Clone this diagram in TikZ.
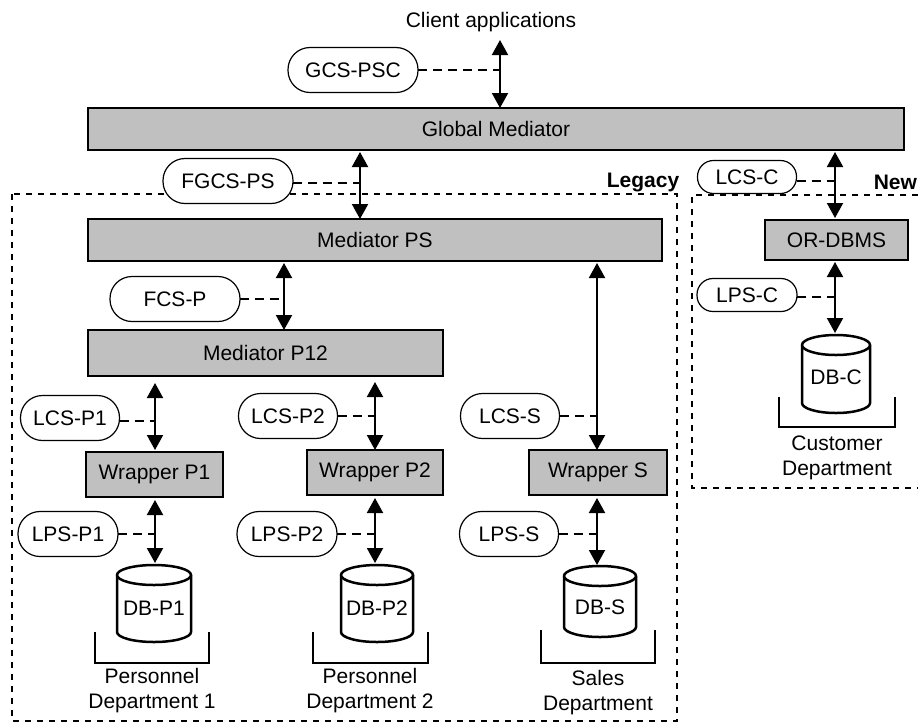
\documentclass[tikz,border=0pt]{standalone}
\usepackage{fontspec}
\setmainfont{Liberation Sans}
\usetikzlibrary{arrows.meta}
\definecolor{boxgray}{RGB}{192,192,192}
\newcommand\dbcyl[7]{%
  \coordinate (#1-top) at (#2,#3);
  \draw[cyl] ({#2-#4/2},{#3+10}) -- ({#2-#4/2},{#3+#5-10})
     arc[start angle=180,end angle=0,x radius=#4/2,y radius=10]
     -- ({#2+#4/2},{#3+10})
     arc[start angle=0,end angle=-180,x radius=#4/2,y radius=10] -- cycle;
  \draw[cyl] ({#2-#4/2},{#3+10}) arc[start angle=180,end angle=0,x radius=#4/2,y radius=10];
  \node (#1) at (#2,#7) {#6};
}
\begin{document}
\begin{tikzpicture}[x=1pt,y=-1pt,
  every node/.style={font=\fontsize{21}{25}\selectfont, inner sep=0pt, outer sep=0pt},
  gbox/.style={draw, line width=2pt, fill=boxgray},
  pill/.style={draw, line width=1.2pt, fill=white, rounded corners=22pt, minimum height=45pt},
  spill/.style={draw, line width=1.2pt, fill=white, rounded corners=16pt, minimum height=33pt},
  biarr/.style={line width=2pt, {Triangle[width=16pt,length=15pt]}-{Triangle[width=16pt,length=15pt]}},
  dconn/.style={line width=1.8pt, dash pattern=on 9pt off 6pt},
  region/.style={line width=1.3pt, dash pattern=on 6pt off 6pt},
  cyl/.style={line width=2.5pt, fill=white},
  brk/.style={line width=2pt},
  lbl/.style={align=center}
]
\useasboundingbox (0,0) rectangle (918,724);

% regions
\draw[region] (12,194) rectangle (677,721);
\draw[region] (918,195) -- (692,195) -- (692,488) -- (918,488);
\node[font=\fontsize{21}{25}\selectfont\bfseries] (legacy) at (643,182) {Legacy};
\node[font=\fontsize{21}{25}\selectfont\bfseries, anchor=east] (new) at (917,182) {New};

% top
\node (ca) at (491,22) {Client applications};
\node[gbox, minimum width=816pt, minimum height=42pt] (gm) at (496,129) {Global Mediator};
\node[gbox, minimum width=574pt, minimum height=42pt] (mps) at (375,240) {Mediator PS};
\node[gbox, minimum width=355pt, minimum height=46pt] (mp12) at (265.5,353) {Mediator P12};
\node[gbox, minimum width=137pt, minimum height=45pt] (wp1) at (154.5,474.5) {Wrapper P1};
\node[gbox, minimum width=136pt, minimum height=45pt] (wp2) at (375,472.5) {Wrapper P2};
\node[gbox, minimum width=138pt, minimum height=45pt] (ws) at (598,472.5) {Wrapper S};
\node[gbox, minimum width=143pt, minimum height=40pt] (ordbms) at (836.5,240) {OR-DBMS};

% pills
\node[pill, minimum width=130pt] (gcs) at (353,70) {GCS-PSC};
\node[pill, minimum width=130pt] (fgcs) at (228,181) {FGCS-PS};
\node[pill, minimum width=130pt] (fcsp) at (175,299) {FCS-P};
\node[pill, minimum width=99pt] (lcsp1) at (70,418) {LCS-P1};
\node[pill, minimum width=99pt] (lcsp2) at (288,416) {LCS-P2};
\node[pill, minimum width=99pt] (lcss) at (510,416) {LCS-S};
\node[pill, minimum width=100pt] (lpsp1) at (68,534) {LPS-P1};
\node[pill, minimum width=100pt] (lpsp2) at (287,534) {LPS-P2};
\node[pill, minimum width=99pt] (lpss) at (509,534) {LPS-S};
\node[spill, minimum width=99pt] (lcsc) at (747,177) {LCS-C};
\node[spill, minimum width=100pt] (lpsc) at (747,295) {LPS-C};

% databases
\dbcyl{db1}{154}{565}{74}{77}{DB-P1}{608}
\dbcyl{db2}{377}{565}{72}{77}{DB-P2}{608}
\dbcyl{dbs}{600}{566}{72}{71}{DB-S}{607}
\dbcyl{dbc}{836}{335}{68}{78}{DB-C}{377}

% brackets
\draw[brk] (95,632) -- (95,663) -- (209,663) -- (209,632);
\draw[brk] (313,632) -- (313,663) -- (428,663) -- (428,632);
\draw[brk] (541,630) -- (541,663) -- (655,663) -- (655,630);
\draw[brk] (779,397) -- (779,427) -- (895,427) -- (895,397);

\node[lbl] (dep1) at (152,691) {Personnel\\Department 1};
\node[lbl] (dep2) at (370,691) {Personnel\\Department 2};
\node[lbl] (deps) at (598,693) {Sales\\Department};
\node[lbl] (depc) at (837,458) {Customer\\Department};

% arrows
\coordinate (cat) at (500,40);
\draw[biarr] (cat) -- (cat |- gm.north);
\draw[biarr, shorten <=2pt] (gm.south -| 360,0) -- (mps.north -| 360,0);
\draw[biarr, shorten <=2pt, shorten >=2pt] (gm.south -| 835,0) -- (ordbms.north -| 835,0);
\draw[biarr, shorten <=2pt] (mps.south -| 284,0) -- (mp12.north -| 284,0);
\draw[biarr, shorten <=2pt] (mps.south -| 597,0) -- (ws.north -| 597,0);
\draw[biarr, shorten <=7pt, shorten >=2pt] (mp12.south -| 155,0) -- (wp1.north -| 155,0);
\draw[biarr, shorten <=6pt] (mp12.south -| 375,0) -- (wp2.north -| 375,0);
\draw[biarr, shorten <=3pt, shorten >=2pt] (wp1.south -| 155,0) -- (db1-top -| 155,0);
\draw[biarr, shorten <=3pt, shorten >=2pt] (wp2.south -| 375,0) -- (db2-top -| 375,0);
\draw[biarr, shorten <=3pt, shorten >=1pt] (ws.south -| 597,0) -- (dbs-top -| 597,0);
\draw[biarr, shorten <=2pt, shorten >=2pt] (ordbms.south -| 835,0) -- (dbc-top -| 835,0);

% dashed connectors
\draw[dconn] (gcs.east) -- (gcs.east -| 500,0);
\draw[dconn] ([yshift=-2pt]fgcs.east) -- ([yshift=-2pt]fgcs.east -| 360,0);
\draw[dconn] (fcsp.east) -- (fcsp.east -| 284,0);
\draw[dconn] ([yshift=-3pt]lcsp1.east) -- ([yshift=-3pt]lcsp1.east -| 155,0);
\draw[dconn] (lcsp2.east) -- (lcsp2.east -| 375,0);
\draw[dconn] (lcss.east) -- (lcss.east -| 597,0);
\draw[dconn] (lpsp1.east) -- (lpsp1.east -| 155,0);
\draw[dconn] (lpsp2.east) -- (lpsp2.east -| 375,0);
\draw[dconn] (lpss.east) -- (lpss.east -| 597,0);
\draw[dconn] ([yshift=-4pt]lcsc.east) -- ([yshift=-4pt]lcsc.east -| 835,0);
\draw[dconn] ([yshift=-2pt]lpsc.east) -- ([yshift=-2pt]lpsc.east -| 835,0);
\end{tikzpicture}
\end{document}
